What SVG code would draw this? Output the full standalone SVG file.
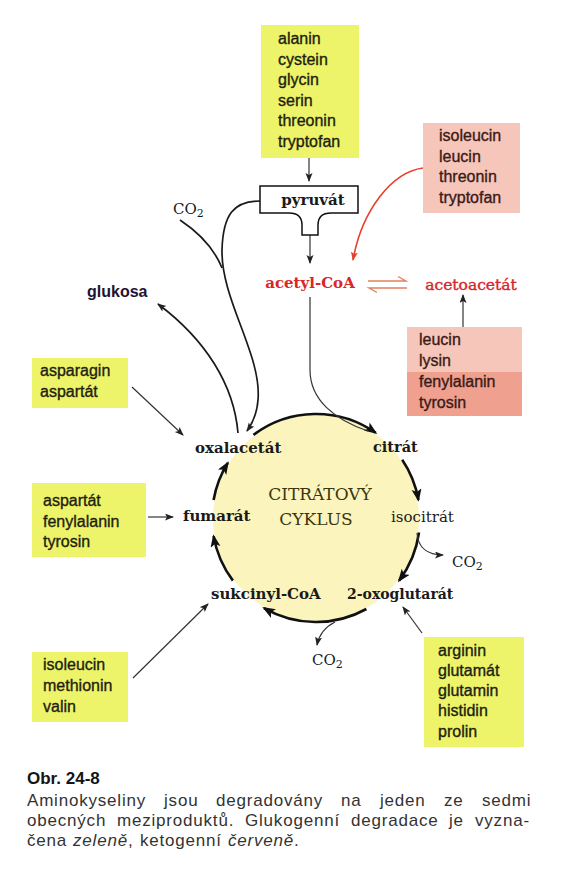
<svg xmlns="http://www.w3.org/2000/svg" width="570" height="878" viewBox="0 0 570 878">
<style>
.box-g{fill:#eef46a}
.box-p{fill:#f7c6ba}
.box-p2{fill:#f0a08e}
.aa{font-family:"Liberation Sans",Arial,sans-serif;font-size:16px;fill:#1e1e10;stroke:#1e1e10;stroke-width:0.35}
.aap{font-family:"Liberation Sans",Arial,sans-serif;font-size:16px;fill:#3a1a18;stroke:#3a1a18;stroke-width:0.35}
.ser{font-family:"DejaVu Serif","Liberation Serif",serif;font-size:15px;fill:#1a1a1a}
.b{font-weight:bold}
.red{fill:#d8262a}
.thick{fill:none;stroke:#111;stroke-width:2.6}
.thin{fill:none;stroke:#333;stroke-width:1.2}
.med{fill:none;stroke:#1a1a1a;stroke-width:1.7}
.cap{font-family:"Liberation Sans",Arial,sans-serif;font-size:17px;fill:#333;letter-spacing:0.8px}
</style>
<defs>
<marker id="ah" markerUnits="userSpaceOnUse" markerWidth="16" markerHeight="12" refX="11" refY="5" orient="auto">
<path d="M0,0 L13,5 L0,10 L3,5 Z" fill="#111"/>
</marker>
<marker id="as" markerUnits="userSpaceOnUse" markerWidth="12" markerHeight="10" refX="8" refY="3.5" orient="auto">
<path d="M0,0 L9,3.5 L0,7 L2,3.5 Z" fill="#222"/>
</marker>
<marker id="ar" markerUnits="userSpaceOnUse" markerWidth="12" markerHeight="10" refX="8" refY="3.5" orient="auto">
<path d="M0,0 L9,3.5 L0,7 L2,3.5 Z" fill="#e8402a"/>
</marker>
</defs>
<rect width="570" height="878" fill="#fff"/>

<g id="cycle-bg">
<circle cx="316" cy="518" r="103" fill="#fcf4bd"/>
</g>

<g id="connectors">
<path class="thick" d="M253.4,434.9 A104,104 0 0 1 375.7,432.8" marker-end="url(#ah)"/>
<path class="thick" d="M402.2,459.8 A104,104 0 0 1 418.4,499.9" marker-end="url(#ah)"/>
<path class="thick" d="M419.0,532.5 A104,104 0 0 1 399.1,580.6" marker-end="url(#ah)"/>
<path class="thick" d="M366.4,609.0 A104,104 0 0 1 264,608.1" marker-end="url(#ah)"/>
<path class="thick" d="M232.9,580.6 A104,104 0 0 1 213.6,536.1" marker-end="url(#ah)"/>
<path class="thick" d="M213.6,499.9 A104,104 0 0 1 227.8,462.9" marker-end="url(#ah)"/>
<path class="thin" d="M309,158 V181" marker-end="url(#as)"/>
<path class="thin" d="M310,235 V263" marker-end="url(#as)"/>
<path class="thin" d="M310,297 V370 C310,400 335,420 368,431"/>
<path d="M423,168 C392,172 362,210 353,260" fill="none" stroke="#e8402a" stroke-width="1.6" marker-end="url(#ar)"/>
<g fill="none" stroke="#e0805e" stroke-width="1.4">
<path d="M368,281 H406 L398,276.5"/>
<path d="M407,288 H369 L377,292.5"/>
</g>
<path class="thin" d="M463,327 V295" marker-end="url(#as)"/>
<path class="med" d="M260,201 C234,201 223,214 222,250 C221,300 262,355 258,400 C257,414 252,424 247,431" marker-end="url(#as)"/>
<path class="med" d="M180,220 C198,232 214,248 222,268"/>
<path class="med" d="M238,433 C234,385 206,340 158,304" marker-end="url(#as)"/>
<path class="thin" d="M132,387 L183,435" marker-end="url(#as)"/>
<path class="thin" d="M148,517 H173" marker-end="url(#as)"/>
<path class="thin" d="M133,678 L208,604" marker-end="url(#as)"/>
<path class="thin" d="M422,633 L403,607" marker-end="url(#as)"/>
<path class="thin" d="M417,533 C418,548 428,555 443,555" marker-end="url(#as)"/>
<path class="thin" d="M335,622 C325,627 319,635 317,645" marker-end="url(#as)"/>
</g>

<g id="box-pyruvate-aa">
<rect class="box-g" x="261" y="25" width="98" height="133"/>
<text class="aa" x="278" y="44">alanin</text>
<text class="aa" x="278" y="65">cystein</text>
<text class="aa" x="278" y="85">glycin</text>
<text class="aa" x="278" y="106">serin</text>
<text class="aa" x="278" y="126">threonin</text>
<text class="aa" x="278" y="147">tryptofan</text>
</g>

<g id="pyruvat">
<path d="M260,186 H358 V213 H331 C322,213 318,218 318,225 V235 H302 V225 C302,218 298,213 289,213 H260 Z" fill="#fff" stroke="#111" stroke-width="1.5"/>
<text class="ser b" x="313" y="205" text-anchor="middle">pyruvát</text>
</g>

<g id="box-ketogenic-1">
<rect class="box-p" x="423" y="123" width="97" height="90"/>
<text class="aap" x="439" y="141">isoleucin</text>
<text class="aap" x="439" y="162">leucin</text>
<text class="aap" x="439" y="182">threonin</text>
<text class="aap" x="439" y="203">tryptofan</text>
</g>

<g id="acetyl-coa">
<text class="ser b red" x="310" y="288" text-anchor="middle">acetyl-CoA</text>
</g>

<g id="acetoacetat">
<text class="ser red" x="471" y="290" text-anchor="middle" style="font-size:15.5px;stroke:#d8262a;stroke-width:0.4">acetoacetát</text>
</g>

<g id="box-ketogenic-2">
<rect class="box-p" x="407" y="327" width="115" height="46"/>
<rect class="box-p2" x="407" y="372" width="115" height="44"/>
<text class="aap" x="419" y="345">leucin</text>
<text class="aap" x="419" y="366">lysin</text>
<text class="aap" x="419" y="387">fenylalanin</text>
<text class="aap" x="419" y="408">tyrosin</text>
</g>

<g id="co2-top">
<text class="ser" x="173" y="214">CO<tspan dy="3" style="font-size:11px">2</tspan></text>
</g>

<g id="glukosa">
<text x="87" y="297" style="font-family:'Liberation Sans',Arial,sans-serif;font-size:16px;font-weight:bold;fill:#1e1430">glukosa</text>
</g>

<g id="box-oxalacetate-aa">
<rect class="box-g" x="32" y="358" width="96" height="50"/>
<text class="aa" x="40" y="376">asparagin</text>
<text class="aa" x="40" y="397">aspartát</text>
</g>

<g id="box-fumarate-aa">
<rect class="box-g" x="32" y="483" width="114" height="74"/>
<text class="aa" x="43" y="506">aspartát</text>
<text class="aa" x="43" y="527">fenylalanin</text>
<text class="aa" x="43" y="547">tyrosin</text>
</g>

<g id="box-succinyl-aa">
<rect class="box-g" x="32" y="652" width="96" height="70"/>
<text class="aa" x="43" y="670">isoleucin</text>
<text class="aa" x="43" y="691">methionin</text>
<text class="aa" x="43" y="712">valin</text>
</g>

<g id="box-oxoglutarate-aa">
<rect class="box-g" x="424" y="637" width="100" height="110"/>
<text class="aa" x="438" y="656">arginin</text>
<text class="aa" x="438" y="676">glutamát</text>
<text class="aa" x="438" y="696">glutamin</text>
<text class="aa" x="438" y="716">histidin</text>
<text class="aa" x="438" y="737">prolin</text>
</g>

<g id="cycle-labels">
<text class="ser b" x="195" y="453">oxalacetát</text>
<text class="ser b" x="373" y="452" style="font-size:14.5px">citrát</text>
<text class="ser" x="391" y="522">isocitrát</text>
<text class="ser b" x="183" y="521">fumarát</text>
<text class="ser b" x="211" y="599">sukcinyl-CoA</text>
<text class="ser b" x="347" y="599" style="font-size:14px">2-oxoglutarát</text>
<text class="ser" x="320" y="500" text-anchor="middle" style="font-size:17px;fill:#3b3510">CITRÁTOVÝ</text>
<text class="ser" x="316" y="525" text-anchor="middle" style="font-size:17px;fill:#3b3510">CYKLUS</text>
</g>

<g id="co2-right">
<text class="ser" x="452" y="567">CO<tspan dy="3" style="font-size:11px">2</tspan></text>
</g>
<g id="co2-bottom">
<text class="ser" x="312" y="665">CO<tspan dy="3" style="font-size:11px">2</tspan></text>
</g>

<g id="caption">
<text x="27" y="784" style="font-family:'Liberation Sans',Arial,sans-serif;font-size:17px;font-weight:bold;fill:#151515">Obr. 24-8</text>
<text class="cap" y="806"><tspan x="27">Aminokyseliny</tspan><tspan x="164">jsou</tspan><tspan x="216">degradovány</tspan><tspan x="341">na</tspan><tspan x="380">jeden</tspan><tspan x="444">ze</tspan><tspan x="482">sedmi</tspan></text>
<text class="cap" y="826"><tspan x="27">obecných</tspan><tspan x="117">meziproduktů.</tspan><tspan x="245">Glukogenní</tspan><tspan x="351">degradace</tspan><tspan x="449">je</tspan><tspan x="475">vyzna-</tspan></text>
<text class="cap" y="846"><tspan x="27">čena</tspan><tspan x="73" font-style="italic">zeleně</tspan><tspan>,</tspan><tspan x="140">ketogenní</tspan><tspan x="228" font-style="italic">červeně</tspan><tspan>.</tspan></text>
</g>
</svg>
